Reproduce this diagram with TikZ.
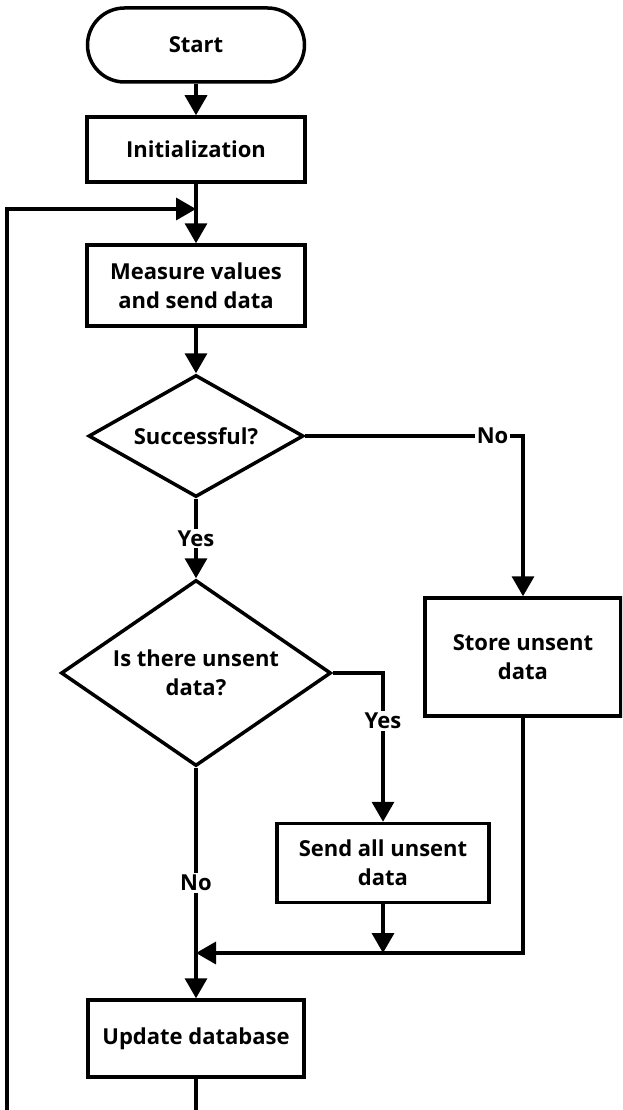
\documentclass[tikz,border=0pt]{standalone}
\usepackage{fontspec}
\setmainfont{Open Sans}
\usetikzlibrary{shapes.geometric,arrows.meta}

\begin{document}
\begin{tikzpicture}[x=1pt,y=-1pt,line width=3.5pt,
  txt/.style={font=\bfseries\fontsize{22}{29}\selectfont},
  term/.style={txt,draw,rectangle,rounded corners=37pt,minimum width=217pt,minimum height=74pt},
  proc/.style={txt,draw,rectangle,align=center,minimum width=218pt,minimum height=65pt},
  decide/.style={draw,diamond,inner sep=0pt,label={[txt,align=center]center:#1}},
  lbl/.style={txt,fill=white,inner sep=2pt},
  arr/.style={-{Triangle[length=20pt,width=22pt]}}]
  \clip (0,0) rectangle (622,1110);

  \node[term] (start) at (196,45) {Start};
  \node[proc] (init) at (196,149.5) {Initialization};
  \node[proc,minimum height=81pt] (meas) at (196,285.5) {Measure values\\and send data};
  \node[decide={Successful?},minimum width=215pt,minimum height=122pt] (ok) at (196,436) {};
  \node[decide={Is there unsent\\data?},minimum width=270pt,minimum height=186pt] (left) at (196,673) {};
  \node[proc,minimum width=196pt,minimum height=118pt] (store) at (523,657) {Store unsent\\data};
  \node[proc,minimum width=212pt,minimum height=79pt] (send) at (383,863) {Send all unsent\\data};
  \node[proc,minimum width=216pt,minimum height=77pt] (upd) at (196,1038.5) {Update database};

  \coordinate (loop) at (196,209);
  \coordinate (merge) at (196,953);
  \coordinate (back) at (7,1150);

  \draw[arr] (start) -- (init);
  \draw[arr] (init) -- (meas);
  \draw[arr] (upd.south) |- (back) |- (loop);
  \draw[arr] (meas) -- (ok);
  \draw[arr] (ok.east) -| node[lbl,pos=0.43] {No} (store.north);
  \draw[arr] (ok.south) -- node[lbl] {Yes} (left.north);
  \draw[arr] (left.east) -| node[lbl,pos=0.66] {Yes} (send.north);
  \draw[arr] (left.south) -- node[lbl] {No} (upd.north);
  \draw[arr] (send.south) -- (send.south |- merge);
  \draw[arr] (store.south) |- (merge);
\end{tikzpicture}
\end{document}
